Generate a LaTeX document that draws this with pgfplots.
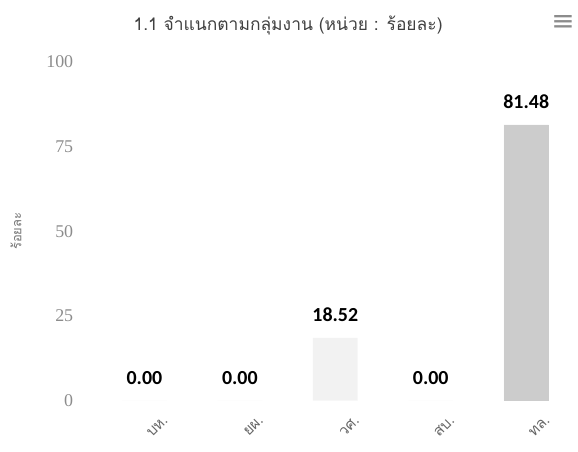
\documentclass[border=0pt]{standalone}
\usepackage{fontspec}
\setmainfont{Liberation Serif}
\newfontfamily\thaifont[Script=Thai]{Loma}
\newfontfamily\lblfont{Carlito}
\newfontfamily\symfont{DejaVu Sans}
\usepackage{pgfplots}
\pgfplotsset{compat=1.18}
\begin{document}
\begin{tikzpicture}
\begin{axis}[
  at={(0pt,0pt)}, anchor=south west,
  scale only axis, width=479pt, height=340pt,
  xmin=-0.5, xmax=4.5, ymin=0, ymax=100,
  axis line style={draw=none}, tick style={draw=none},
  ytick={0,25,50,75,100},
  xtick={0,1,2,3,4},
  xticklabels={บห., ยผ., วศ., สบ., ทล.},
  xticklabel style={font=\thaifont\fontsize{15}{17}\selectfont, text=black!60, rotate=45, anchor=north east, xshift=6pt, yshift=-20pt},
  yticklabel style={font=\fontsize{18}{20}\selectfont, text=black!45, xshift=-20pt},
  /pgf/number format/assume math mode=true,
  every axis y label/.style={at={(axis description cs:-0.169,0.5)}, rotate=90, anchor=center},
  ylabel={ร้อยละ},
  ylabel style={font=\thaifont\fontsize{13}{15}\selectfont, text=black!55},
  title={1.1 จำแนกตามกลุ่มงาน (หน่วย : ร้อยละ)},
  title style={at={(axis description cs:0.401,1.09)}, anchor=center, font=\thaifont\fontsize{17.5}{20}\selectfont, text=black!75},
  clip=false,
]
\addplot[ybar, bar width=45pt, bar shift=0pt, fill=gray!10, draw=none,
  nodes near coords={\pgfmathprintnumber[fixed, fixed zerofill, precision=2]{\pgfplotspointmeta}},
  every node near coord/.append style={font=\lblfont\bfseries\fontsize{20}{22}\selectfont, text=black, anchor=center, yshift=23pt}]
  coordinates {(0,0) (1,0) (2,18.52) (3,0) (4,81.48)};
\addplot[ybar, bar width=45pt, bar shift=0pt, fill=gray!40, draw=none]
  coordinates {(4,81.48)};
\node[font=\symfont\fontsize{28}{28}\selectfont, text=black!45] at (axis description cs:0.977,1.115) {≡};
\end{axis}
\path[use as bounding box] (-97pt,-51pt) rectangle (481pt,402pt);
\end{tikzpicture}
\end{document}
